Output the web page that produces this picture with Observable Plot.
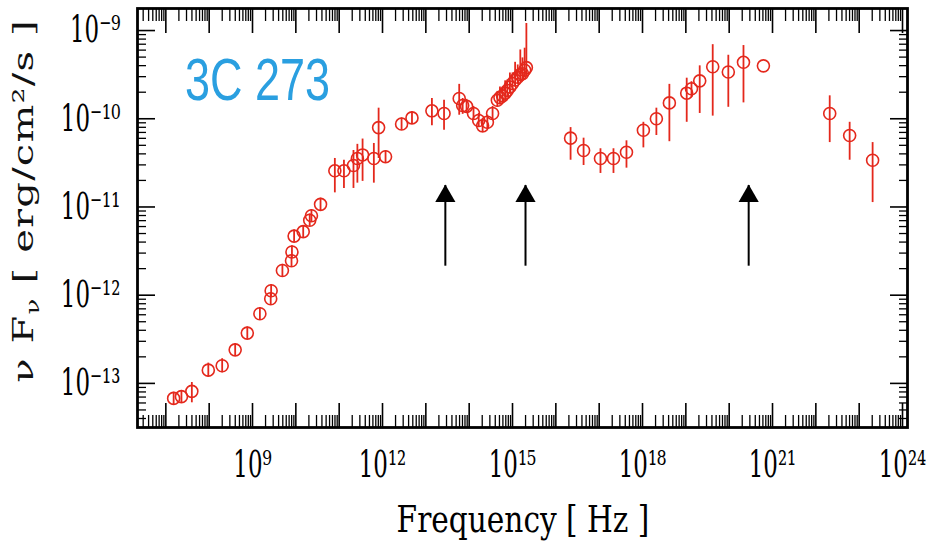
<!DOCTYPE html>
<html><head><meta charset="utf-8">
<script src="https://cdn.jsdelivr.net/npm/d3@7"></script>
<script src="https://cdn.jsdelivr.net/npm/@observablehq/plot@0.6"></script>
<style>body{margin:0;background:#fff} #chart svg{display:block}</style>
</head><body><div id="chart"></div>
<script>
// ---- data (log10 values) ----
const logFreq = [7.18, 7.36, 7.60, 7.98, 8.30, 8.60, 8.88, 9.17, 9.42, 9.43, 9.69, 9.90, 9.91, 9.96, 10.17, 10.32, 10.36, 10.57,
  10.90, 11.11, 11.33, 11.42, 11.54, 11.80, 11.91, 12.07, 12.44, 12.68, 13.14, 13.42, 13.77, 13.85, 13.94, 14.10, 14.22, 14.31,
  14.42, 14.54, 14.65, 14.71, 14.77, 14.83, 14.88, 14.94, 15.00, 15.06, 15.12, 15.18, 15.23, 15.28, 15.32,
  16.34, 16.64, 17.03, 17.33, 17.63, 18.02, 18.32, 18.62, 19.02, 19.13, 19.32, 19.62, 19.98, 20.33, 20.79,
  22.32, 22.78, 23.31];
const logFlux = [-13.17, -13.15, -13.09, -12.85, -12.80, -12.62, -12.43, -12.21, -12.04, -11.95, -11.72, -11.61, -11.51, -11.33, -11.28, -11.15, -11.10, -10.97,
  -10.59, -10.59, -10.53, -10.45, -10.41, -10.45, -10.10, -10.43, -10.06, -9.99, -9.91, -9.94, -9.77, -9.85, -9.86, -9.94, -10.02, -10.08,
  -10.04, -9.94, -9.79, -9.76, -9.74, -9.71, -9.68, -9.64, -9.60, -9.56, -9.53, -9.50, -9.49, -9.45, -9.42,
  -10.22, -10.36, -10.45, -10.45, -10.38, -10.13, -10.00, -9.82, -9.71, -9.66, -9.57, -9.41, -9.47, -9.36, -9.40,
  -9.94, -10.19, -10.47];
const errDown = [0.07, 0.07, 0.13, 0.08, 0.08, 0.07, 0.07, 0.07, 0.07, 0.07, 0.07, 0.07, 0.07, 0.07, 0.07, 0.07, 0.07, 0.07,
  0.25, 0.20, 0.26, 0.28, 0.30, 0.28, 0.35, 0.07, 0.07, 0.07, 0.17, 0.19, 0.19, 0.10, 0.08, 0.08, 0.08, 0.08,
  0.08, 0.08, 0.08, 0.08, 0.08, 0.08, 0.08, 0.08, 0.08, 0.08, 0.08, 0.08, 0.08, 0.08, 0.10,
  0.25, 0.17, 0.17, 0.17, 0.18, 0.20, 0.19, 0.44, 0.33, 0.10, 0.37, 0.56, 0.40, 0.46, 0.0,
  0.33, 0.28, 0.48];
const errUp = [0.07, 0.07, 0.10, 0.08, 0.08, 0.07, 0.07, 0.07, 0.07, 0.07, 0.07, 0.07, 0.07, 0.07, 0.07, 0.07, 0.07, 0.07,
  0.14, 0.12, 0.17, 0.16, 0.18, 0.17, 0.22, 0.07, 0.07, 0.07, 0.14, 0.15, 0.16, 0.08, 0.08, 0.08, 0.08, 0.08,
  0.08, 0.08, 0.10, 0.12, 0.10, 0.14, 0.12, 0.16, 0.12, 0.20, 0.14, 0.28, 0.18, 0.25, 0.50,
  0.12, 0.14, 0.11, 0.11, 0.13, 0.09, 0.12, 0.21, 0.17, 0.08, 0.17, 0.25, 0.19, 0.19, 0.0,
  0.20, 0.15, 0.20];
const arrowLogFreq = [13.45, 15.30, 20.45];
const arrowTailLogFlux = -11.66;
const arrowTipLogFlux = -10.745;
const xLabelExponents = [9, 12, 15, 18, 21, 24];
const yLabelExponents = [-13, -12, -11, -10, -9];
const sourceName = "3C 273";
const xTitle = "Frequency [ Hz ]";
const yTitleParts = ["ν F", "ν", " [ erg/cm²/s ]"];

// ---- build tables ----
const points = logFreq.map((lx, i) => ({
  nu: 10 ** lx, flux: 10 ** logFlux[i],
  lo: 10 ** (logFlux[i] - errDown[i]), hi: 10 ** (logFlux[i] + errUp[i])
}));
const arrows = arrowLogFreq.map(lx => ({nu: 10 ** lx, tail: 10 ** arrowTailLogFlux, tip: 10 ** arrowTipLogFlux}));

const xDomain = [10 ** 6.346, 10 ** 24.115];
const yDomain = [10 ** -13.5, 10 ** -8.75];
const majorX = d3.range(7, 25).map(e => 10 ** e);
const minorX = [];
for (let e = 6; e <= 24; e++) for (let m = 2; m <= 9; m++) { const v = m * 10 ** e; if (v > xDomain[0] && v < xDomain[1]) minorX.push(v); }
const majorY = d3.range(-13, -8).map(e => 10 ** e);
const minorY = [];
for (let e = -14; e <= -9; e++) for (let m = 2; m <= 9; m++) { const v = m * 10 ** e; if (v > yDomain[0] && v < yDomain[1]) minorY.push(v); }

const supMap = {"0":"⁰","1":"¹","2":"²","3":"³","4":"⁴","5":"⁵","6":"⁶","7":"⁷","8":"⁸","9":"⁹","-":"⁻"};
const sup = s => String(s).split("").map(c => supMap[c]).join("");
const fmt = v => "10" + sup(Math.round(Math.log10(v)));

const red = "#e4281c";
const serif = "'DejaVu Serif', serif";
const chart = Plot.plot({
  width: 926, height: 545,
  marginLeft: 137, marginRight: 19, marginTop: 8, marginBottom: 118,
  x: {type: "log", domain: xDomain, label: null},
  y: {type: "log", domain: yDomain, label: null},
  style: {fontFamily: serif, background: "white", color: "black", overflow: "visible"},
  marks: [
    Plot.axisX({ticks: minorX, anchor: "bottom", tickSize: -12, fill: "none", label: null, strokeWidth: 1.3}),
    Plot.axisX({ticks: majorX, anchor: "bottom", tickSize: -24, fill: "none", label: null, strokeWidth: 1.6}),
    Plot.axisX({ticks: minorX, anchor: "top", tickSize: -12, fill: "none", label: null, strokeWidth: 1.3}),
    Plot.axisX({ticks: majorX, anchor: "top", tickSize: -24, fill: "none", label: null, strokeWidth: 1.6}),
    Plot.axisY({ticks: minorY, anchor: "left", tickSize: -9, fill: "none", label: null, strokeWidth: 1.3}),
    Plot.axisY({ticks: majorY, anchor: "left", tickSize: -18, fill: "none", label: null, strokeWidth: 1.6}),
    Plot.axisY({ticks: minorY, anchor: "right", tickSize: -9, fill: "none", label: null, strokeWidth: 1.3}),
    Plot.axisY({ticks: majorY, anchor: "right", tickSize: -18, fill: "none", label: null, strokeWidth: 1.6}),
    Plot.axisX({ticks: xLabelExponents.map(e => 10 ** e), anchor: "bottom", tickSize: 0, tickPadding: 23,
      tickFormat: fmt, fontSize: 37, label: null}),
    Plot.axisY({ticks: yLabelExponents.map(e => 10 ** e), anchor: "left", tickSize: 0, tickPadding: 17,
      tickFormat: fmt, fontSize: 37, label: null}),
    Plot.ruleX(points, {x: "nu", y1: "lo", y2: "hi", stroke: red, strokeWidth: 1.8}),
    Plot.dot(points, {x: "nu", y: "flux", r: 6, stroke: red, strokeWidth: 1.6, fill: "none"}),
    Plot.ruleX(arrows, {x: "nu", y1: "tail", y2: "tip", stroke: "black", strokeWidth: 2, dy: 1}),
    Plot.dot(arrows, {x: "nu", y: "tip", symbol: "triangle", r: 7.5, fill: "black", stroke: "none", dy: 11.7}),
    Plot.frame({stroke: "black", strokeWidth: 2.8})
  ]
});

// horizontal squeeze of tick-label glyphs to mimic the reference lettering
function squish(sel, sx, sy) {
  chart.querySelectorAll(sel).forEach(t => {
    const tr = t.getAttribute("transform") || "";
    const x = t.getAttribute("x"), y = t.getAttribute("y");
    let tx = 0, ty = 0;
    if (x && !/em$/.test(x)) { tx = +x; t.removeAttribute("x"); }
    if (y && !/em$/.test(y)) { ty = +y; t.removeAttribute("y"); }
    t.setAttribute("transform", `${tr} translate(${tx},${ty}) scale(${sx},${sy})`);
  });
}
squish('g[aria-label="x-axis tick label"] text', 0.62, 1);
squish('g[aria-label="y-axis tick label"] text', 0.62, 1);

// titles and source label
const svg = d3.select(chart);
svg.append("text")
  .attr("transform", "translate(523,532) scale(0.8,1)")
  .attr("text-anchor", "middle").attr("font-family", serif).attr("font-size", 37).attr("fill", "black")
  .text(xTitle);
const yt = svg.append("text")
  .attr("transform", "translate(33,201) rotate(-90) scale(1,0.7)")
  .attr("text-anchor", "middle").attr("font-family", serif).attr("font-size", 40)
  .attr("letter-spacing", 1.2).attr("fill", "#111");
yt.append("tspan").text(yTitleParts[0]);
yt.append("tspan").attr("dy", 8).attr("font-size", 26).text(yTitleParts[1]);
yt.append("tspan").attr("dy", -8).text(yTitleParts[2]);
svg.append("text")
  .attr("transform", "translate(185,100) scale(0.75,1)")
  .attr("text-anchor", "start").attr("font-family", "'Liberation Sans', Arial, sans-serif").attr("font-size", 60)
  .attr("fill", "#2a9fe0")
  .text(sourceName);

document.getElementById("chart").appendChild(chart);
</script>
</body></html>
